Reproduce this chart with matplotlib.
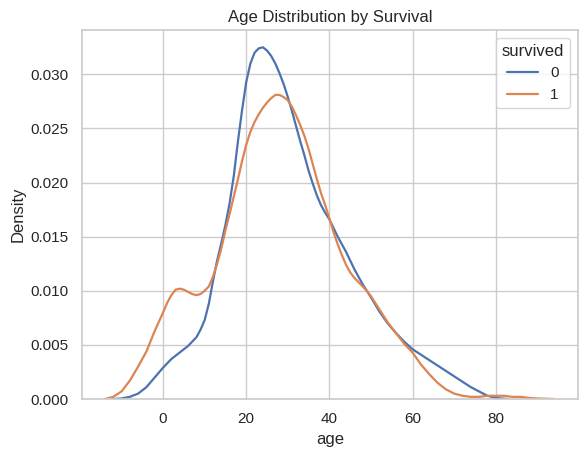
import matplotlib
matplotlib.use("Agg")
import matplotlib.pyplot as plt
import numpy as np
import seaborn as sns

sns.set_theme(style="whitegrid")
plt.rcParams["font.family"] = ["Liberation Sans", "DejaVu Sans"]

# Density curves (age, density)
age_died = [-12, -10, -8, -6, -4, -2, 0, 2, 4, 6, 8, 9, 10, 11, 12, 13, 14, 15, 16, 17, 18, 19,
            20, 21, 22, 23, 24, 25, 26, 27, 28, 29, 30, 31, 32, 33, 34, 35, 36, 37, 38, 39, 40,
            41, 42, 44, 46, 48, 50, 52, 54, 56, 58, 60, 62, 64, 66, 68, 70, 72, 74, 76, 78, 80,
            82, 83]
dens_died = [0.0, 0.00005, 0.0002, 0.0005, 0.0011, 0.0020, 0.0029, 0.0037, 0.0043, 0.0049,
             0.0057, 0.0064, 0.0073, 0.0088, 0.0109, 0.0128, 0.0144, 0.0161, 0.0181, 0.0206,
             0.0238, 0.0267, 0.0293, 0.0310, 0.0320, 0.0324, 0.0325, 0.0322, 0.0317, 0.0310,
             0.0301, 0.0291, 0.0279, 0.0266, 0.0252, 0.0238, 0.0225, 0.0211, 0.0199, 0.0188,
             0.0179, 0.0172, 0.0166, 0.0158, 0.0150, 0.0136, 0.0120, 0.0106, 0.0094, 0.0081,
             0.0070, 0.0061, 0.0053, 0.0046, 0.0041, 0.0036, 0.0031, 0.0026, 0.0021, 0.0016,
             0.0011, 0.0007, 0.0003, 0.0001, 0.00003, 0.0]

age_surv = [-14, -12, -10, -8, -6, -4, -2, 0, 1, 2, 3, 4, 5, 6, 7, 8, 9, 10, 11, 12, 13, 14,
            15, 16, 17, 18, 19, 20, 21, 22, 23, 24, 25, 26, 27, 28, 29, 30, 31, 32, 33, 34, 35,
            36, 37, 38, 39, 40, 41, 42, 43, 44, 45, 46, 47, 48, 49, 50, 52, 54, 56, 58, 60, 62,
            64, 66, 68, 70, 72, 74, 76, 78, 80, 82, 84, 86, 88, 90, 94]
dens_surv = [0.0, 0.0002, 0.0007, 0.0017, 0.0030, 0.0044, 0.0063, 0.0080, 0.0089, 0.0096,
             0.0101, 0.0102, 0.0101, 0.0099, 0.0097, 0.0096, 0.0097, 0.0100, 0.0104, 0.0113,
             0.0125, 0.0139, 0.0156, 0.0171, 0.0187, 0.0203, 0.0220, 0.0235, 0.0247, 0.0256,
             0.0263, 0.0269, 0.0274, 0.0278, 0.0281, 0.0281, 0.0279, 0.0276, 0.0270, 0.0262,
             0.0253, 0.0243, 0.0231, 0.0217, 0.0203, 0.0190, 0.0179, 0.0167, 0.0154, 0.0143,
             0.0133, 0.0124, 0.0117, 0.0112, 0.0108, 0.0104, 0.0100, 0.0095, 0.0083, 0.0071,
             0.0061, 0.0051, 0.0043, 0.0032, 0.0023, 0.0015, 0.0009, 0.0005, 0.0003, 0.0002,
             0.0002, 0.0003, 0.0003, 0.0003, 0.0002, 0.0002, 0.0001, 0.00005, 0.0]

colors = sns.color_palette("deep")

fig, ax = plt.subplots(figsize=(5.88, 4.57), dpi=100)
fig.subplots_adjust(left=0.1395, right=0.983, top=0.9344, bottom=0.1269)

ax.plot(age_died, dens_died, color=colors[0], lw=1.6, label="0")
ax.plot(age_surv, dens_surv, color=colors[1], lw=1.6, label="1")

ax.set_xlim(-19.5, 99.8)
ax.set_ylim(0, 0.0341)
ax.set_xticks([0, 20, 40, 60, 80])
ax.set_yticks(np.arange(0, 0.0301, 0.005))
ax.set_yticklabels([f"{v:.3f}" for v in np.arange(0, 0.0301, 0.005)])

ax.set_xlabel("age")
ax.set_ylabel("Density")
ax.set_title("Age Distribution by Survival")
ax.legend(title="survived", loc="upper right")

fig.savefig("out.png", dpi=100)
